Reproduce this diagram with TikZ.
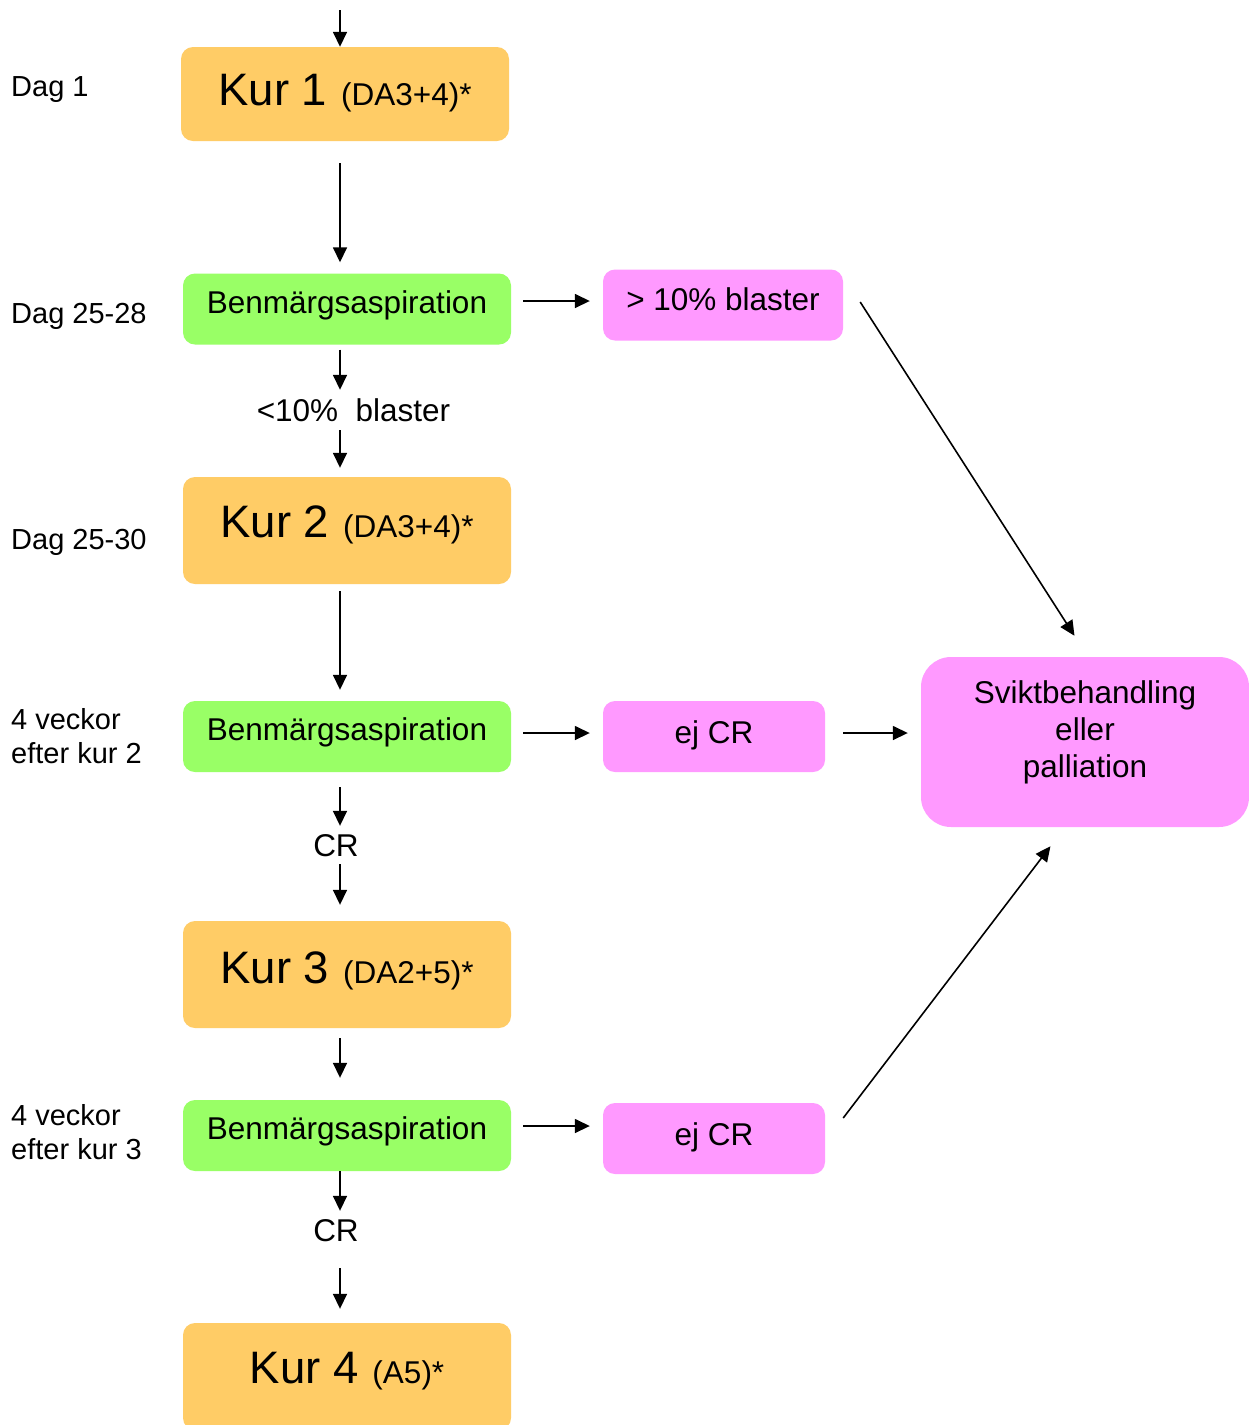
\documentclass[tikz,border=0pt]{standalone}
\usepackage{fontspec}
\setmainfont{Liberation Sans}
\usetikzlibrary{arrows.meta}

\definecolor{kurfill}{HTML}{FFCC66}
\definecolor{benfill}{HTML}{99FF66}
\definecolor{resfill}{HTML}{FF99FF}

\tikzset{
  box/.style={rounded corners=12pt, inner sep=0pt, text depth=0pt,
              font=\fontsize{31.5pt}{37pt}\selectfont},
  kurbox/.style={box, fill=kurfill, minimum width=328pt},
  benbox/.style={box, fill=benfill, minimum width=328pt, minimum height=71pt, text height=8pt},
  resbox/.style={box, fill=resfill, minimum height=71pt},
  sidelabel/.style={anchor=base west, inner sep=0pt,
                    font=\fontsize{29pt}{34pt}\selectfont},
  midlabel/.style={anchor=base, inner sep=0pt, text height=23pt, text depth=0pt,
                   font=\fontsize{31.5pt}{37pt}\selectfont},
  flow/.style={line width=1.6pt, -{Triangle[length=15pt,width=14pt]}}
}
\newcommand{\kurtitle}[2]{{\fontsize{45.5pt}{50pt}\selectfont Kur #1}\hspace{14pt}{\fontsize{31.5pt}{36pt}\selectfont #2}}

\begin{document}
\begin{tikzpicture}[x=1pt, y=-1pt]
  \useasboundingbox (0,0) rectangle (1249,1425);
  \fill[white] (0,0) rectangle (1249,1425);
  \clip (0,0) rectangle (1249,1425);

  % main column
  \node[kurbox, minimum height=94pt, text height=22pt] (kur1) at (345,94) {\kurtitle{1}{(DA3+4)*}};
  \node[benbox] (ben1) at (347,309) {Benmärgsaspiration};
  \node[midlabel] (lbl10) at (353.5,421) {<10\%\ \ blaster};
  \node[kurbox, minimum height=107pt, text height=13pt] (kur2) at (347,530.5) {\kurtitle{2}{(DA3+4)*}};
  \node[benbox] (ben2) at (347,736.5) {Benmärgsaspiration};
  \node[midlabel] (cr1) at (336,856) {CR};
  \node[kurbox, minimum height=107pt, text height=17pt] (kur3) at (347,974.5) {\kurtitle{3}{(DA2+5)*}};
  \node[benbox] (ben3) at (347,1135.5) {Benmärgsaspiration};
  \node[midlabel] (cr2) at (336,1241) {CR};
  \node[kurbox, minimum height=107pt, text height=13pt] (kur4) at (347,1376.5) {\kurtitle{4}{(A5)*}};

  % results column
  \node[resbox, minimum width=240pt, text height=10pt] (pos10) at (723,305) {> 10\% blaster};
  \node[resbox, minimum width=222pt, text height=13pt] (ejcr1) at (714,736.5) {ej CR};
  \node[resbox, minimum width=222pt, text height=13pt] (ejcr2) at (714,1138.5) {ej CR};
  \node[box, fill=resfill, rounded corners=30pt, minimum width=328pt, minimum height=170pt,
        text height=0pt, text depth=78pt] (svikt) at (1085,742)
        {\begin{tabular}[t]{@{}c@{}}Sviktbehandling\\eller\\palliation\end{tabular}};

  % time labels
  \node[sidelabel] (t1) at (11,96) {Dag 1};
  \node[sidelabel] (t2) at (11,323) {Dag 25-28};
  \node[sidelabel] (t3) at (11,549) {Dag 25-30};
  \node[sidelabel] (t4) at (11,729) {\begin{tabular}[t]{@{}l@{}}4 veckor\\efter kur 2\end{tabular}};
  \node[sidelabel] (t5) at (11,1125) {\begin{tabular}[t]{@{}l@{}}4 veckor\\efter kur 3\end{tabular}};

  % connectors down the main column
  \coordinate (ax) at (340,0);
  \coordinate (start) at (340,10);
  \draw[flow] (start) -- (kur1.north -| ax);
  \draw[flow, shorten <=22pt, shorten >=11pt] (kur1.south -| ax) -- (ben1.north -| ax);
  \draw[flow, shorten <=5pt, shorten >=8pt] (ben1.south -| ax) -- (lbl10.north -| ax);
  \draw[flow, shorten <=9pt, shorten >=9pt] (lbl10.south -| ax) -- (kur2.north -| ax);
  \draw[flow, shorten <=7pt, shorten >=11pt] (kur2.south -| ax) -- (ben2.north -| ax);
  \draw[flow, shorten <=15pt, shorten >=7pt] (ben2.south -| ax) -- (cr1.north -| ax);
  \draw[flow, shorten <=8pt, shorten >=16pt] (cr1.south -| ax) -- (kur3.north -| ax);
  \draw[flow, shorten <=10pt, shorten >=22pt] (kur3.south -| ax) -- (ben3.north -| ax);
  \draw[flow, shorten >=7pt] (ben3.south -| ax) -- (cr2.north -| ax);
  \draw[flow, shorten <=27pt, shorten >=14pt] (cr2.south -| ax) -- (kur4.north -| ax);

  % connectors to the results
  \draw[flow, shorten <=12pt, shorten >=13pt] ([yshift=8pt]ben1.east) -- ([yshift=8pt]ben1.east -| pos10.west);
  \draw[flow, shorten <=12pt, shorten >=13pt] ([yshift=3.5pt]ben2.east) -- ([yshift=3.5pt]ben2.east -| ejcr1.west);
  \draw[flow, shorten <=12pt, shorten >=13pt] ([yshift=9.5pt]ben3.east) -- ([yshift=9.5pt]ben3.east -| ejcr2.west);

  % connectors to the failure treatment
  \draw[flow, shorten <=18pt, shorten >=13pt] ([yshift=3.5pt]ejcr1.east) -- ([yshift=3.5pt]ejcr1.east -| svikt.west);
  \draw[flow, shorten >=25pt] ([xshift=17pt,yshift=3pt]pos10.east) -- ([xshift=3pt]svikt.north);
  \draw[flow, shorten >=24pt] ([xshift=18pt,yshift=20.5pt]ejcr2.east) -- ([xshift=-20pt]svikt.south);
\end{tikzpicture}
\end{document}
